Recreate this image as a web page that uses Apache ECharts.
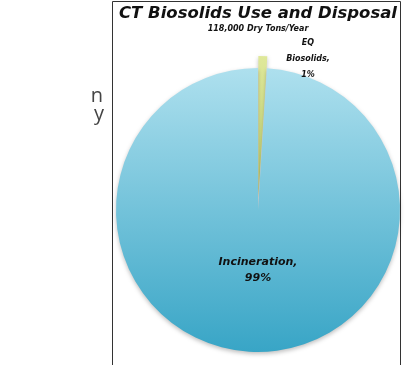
<!DOCTYPE html>
<html><head><meta charset="utf-8">
<script src="https://cdn.jsdelivr.net/npm/echarts@6/dist/echarts.min.js"></script>
<style>html,body{margin:0;padding:0;background:#fff}#c{width:410px;height:365px}</style>
</head><body><div id="c"></div>
<script>
const categories = ['EQ Biosolids', 'Incineration'];
const values = [1, 99];
const labelTexts = ['EQ\nBiosolids,\n1%', 'Incineration,\n99%'];
const titleText = 'CT Biosolids Use and Disposal';
const subtitleText = '118,000 Dry Tons/Year';

const chart = echarts.init(document.getElementById('c'), null, {renderer: 'canvas'});
const colors = [
  new echarts.graphic.LinearGradient(0, 0, 0, 1, [{offset: 0, color: '#dfe89a'}, {offset: 1, color: '#c4d670'}]),
  new echarts.graphic.LinearGradient(0, 0, 0, 1, [{offset: 0, color: '#aee0ee'}, {offset: 1, color: '#38a5c6'}])
];
const labelFont = {fontFamily: 'DejaVu Sans', fontWeight: 'bold', fontStyle: 'italic'};
chart.setOption({
  animation: false,
  backgroundColor: '#fff',
  title: {
    text: titleText,
    subtext: subtitleText,
    left: 253, textAlign: 'center', top: 0, itemGap: 3,
    textStyle: Object.assign({fontSize: 16.5, color: '#111'}, labelFont),
    subtextStyle: Object.assign({fontSize: 8, color: '#111'}, labelFont)
  },
  graphic: [
    {type: 'polyline', shape: {points: [[112.5, 365], [112.5, 1.5], [400.5, 1.5], [400.5, 365]]}, style: {stroke: '#333', lineWidth: 1, fill: null}},
    {type: 'text', style: {text: 'n', x: 103, y: 86, align: 'right', font: '20px "Open Sans"', fill: '#444'}},
    {type: 'text', style: {text: 'y', x: 104, y: 104, align: 'right', font: '20px "Open Sans"', fill: '#444'}},
    {type: 'text', x: 308, y: 59, z: 100, style: {text: labelTexts[0], align: 'center', verticalAlign: 'middle',
      font: 'italic bold 8px "DejaVu Sans"', lineHeight: 16, fill: '#111'}}
  ],
  series: [{
    type: 'pie',
    center: [258, 210],
    radius: [0, 142],
    startAngle: 90,
    clockwise: true,
    selectedMode: 'single',
    selectedOffset: 12,
    avoidLabelOverlap: false,
    itemStyle: {shadowBlur: 4, shadowColor: 'rgba(0,0,0,0.25)', shadowOffsetY: 2},
    label: Object.assign({
      position: 'inside', color: '#111', fontSize: 11, lineHeight: 16, align: 'center',
      formatter: p => labelTexts[p.dataIndex]
    }, labelFont),
    labelLine: {show: false},
    emphasis: {disabled: true},
    data: categories.map((c, i) => ({
      name: c, value: values[i], selected: i === 0,
      itemStyle: {color: colors[i]},
      label: {show: i !== 0}
    }))
  }]
});
chart.setOption({
  series: [{
    labelLayout: function (p) {
      return {x: 258, y: 270, align: 'center', verticalAlign: 'middle'};
    }
  }]
});
</script></body></html>
